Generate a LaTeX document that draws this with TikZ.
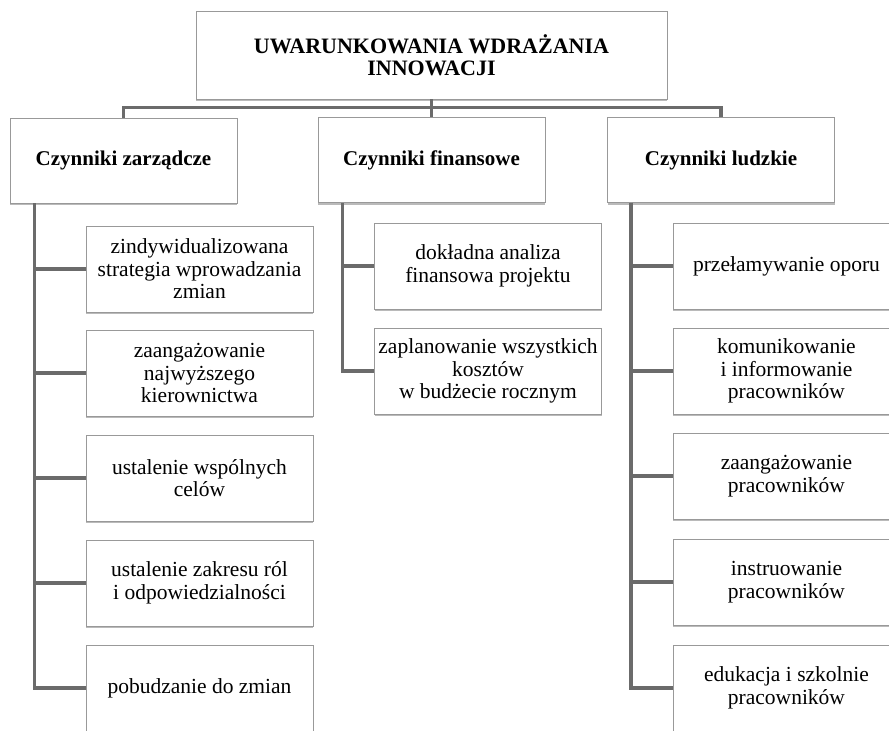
\documentclass[tikz,border=0pt]{standalone}
\usepackage{fontspec}
\setmainfont{Liberation Serif}
\usetikzlibrary{shadows}

\begin{document}
\begin{tikzpicture}[x=1pt,y=-1pt,
  itembox/.style={draw=gray!80,fill=white,line width=0.7pt,minimum width=227pt,minimum height=86pt,
    inner sep=2pt,align=center,font=\fontsize{21.5}{22.5}\selectfont,
    drop shadow={shadow xshift=0pt,shadow yshift=-2pt,fill=gray!60,opacity=0.9}},
  headbox/.style={itembox,minimum height=85pt,font=\bfseries\fontsize{21}{22.5}\selectfont},
  conn/.style={draw=black!58,line width=3.5pt}]
\useasboundingbox (0,0) rectangle (889,731);

\node[headbox,minimum width=471pt,minimum height=88pt,font=\bfseries\fontsize{22}{22.5}\selectfont] (top) at (431.5,55) {UWARUNKOWANIA WDRAŻANIA\\INNOWACJI};
\node[headbox] (hz) at (123.5,160.5) {Czynniki zarządcze};
\node[headbox] (hf) at (431.5,160) {Czynniki finansowe};
\node[headbox] (hl) at (721,160) {Czynniki ludzkie};

\node[itembox] (z1) at (199.5,269) {zindywidualizowana\\strategia wprowadzania\\zmian};
\node[itembox] (z2) at (199.5,373) {zaangażowanie\\najwyższego\\kierownictwa};
\node[itembox] (z3) at (199.5,478) {ustalenie wspólnych\\celów};
\node[itembox] (z4) at (199.5,583) {ustalenie zakresu ról\\i odpowiedzialności};
\node[itembox] (z5) at (199.5,688) {pobudzanie do zmian};

\node[itembox] (f1) at (488,266) {dokładna analiza\\finansowa projektu};
\node[itembox] (f2) at (488,371) {zaplanowanie wszystkich\\kosztów\\w budżecie rocznym};

\node[itembox] (l1) at (786.5,266) {przełamywanie oporu};
\node[itembox] (l2) at (786.5,371) {komunikowanie\\i informowanie\\pracowników};
\node[itembox] (l3) at (786.5,476) {zaangażowanie\\pracowników};
\node[itembox] (l4) at (786.5,582) {instruowanie\\pracowników};
\node[itembox] (l5) at (786.5,688) {edukacja i szkolnie\\pracowników};

\draw[conn] (top.south) -- ++(0,8) -| (hz.north);
\draw[conn] (top.south) -- ++(0,8) -| (hl.north);
\draw[conn] (top.south) -- (hf.north);

\foreach \i in {1,...,5} \draw[conn] ([xshift=25pt]hz.south west) |- (z\i.west);
\foreach \i in {1,2} \draw[conn] ([xshift=25pt]hf.south west) |- (f\i.west);
\foreach \i in {1,...,5} \draw[conn] ([xshift=24pt]hl.south west) |- (l\i.west);

\end{tikzpicture}
\end{document}
